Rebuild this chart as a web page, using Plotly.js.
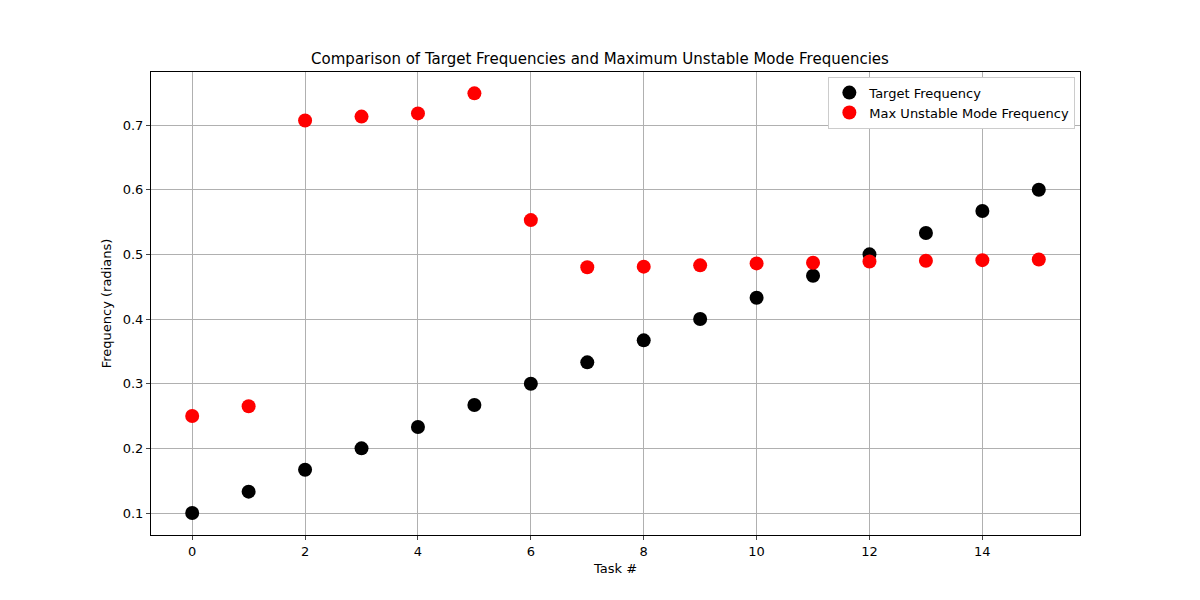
<!DOCTYPE html>
<html><head><script src="https://cdn.plot.ly/plotly-3.0.1.min.js"></script></head>
<body style="margin:0"><div id="c" style="width:1200px;height:600px"></div>
<script>
const tasks = [0,1,2,3,4,5,6,7,8,9,10,11,12,13,14,15];
const targetFreq = [0.1,0.133,0.167,0.2,0.233,0.267,0.3,0.333,0.367,0.4,0.433,0.467,0.5,0.533,0.567,0.6];
const maxUnstable = [0.25,0.265,0.707,0.713,0.718,0.749,0.553,0.480,0.481,0.483,0.486,0.487,0.489,0.490,0.491,0.492];
const xTicks = [0,2,4,6,8,10,12,14];
const yTicks = [0.1,0.2,0.3,0.4,0.5,0.6,0.7];
Plotly.newPlot('c', [
 {x:tasks,y:targetFreq,mode:'markers',type:'scatter',name:'Target Frequency',marker:{color:'black',size:14}},
 {x:tasks,y:maxUnstable,mode:'markers',type:'scatter',name:'Max Unstable Mode Frequency',marker:{color:'red',size:14}}
],{
 width:1200,height:600,paper_bgcolor:'white',plot_bgcolor:'white',
 font:{family:'DejaVu Sans',size:13,color:'black'},
 margin:{l:151,r:120,t:72,b:65},
 title:{text:'Comparison of Target Frequencies and Maximum Unstable Mode Frequencies',x:0.5,xanchor:'center',y:0.902,yanchor:'middle',font:{size:15}},
 xaxis:{range:[-0.73,15.73],tickvals:xTicks,tickfont:{size:13},showgrid:true,gridcolor:'#b0b0b0',zeroline:false,showline:true,mirror:true,linecolor:'black',ticks:'outside',ticklen:4,title:{text:'Task #',standoff:6,font:{size:13}}},
 yaxis:{range:[0.066,0.782],tickvals:yTicks,tickfont:{size:13},ticktext:yTicks.map(v=>v.toFixed(1)),showgrid:true,gridcolor:'#b0b0b0',zeroline:false,showline:true,mirror:true,linecolor:'black',ticks:'outside',ticklen:4,title:{text:'Frequency (radians)',standoff:8,font:{size:13}}},
 legend:{x:0.995,y:0.99,xanchor:'right',yanchor:'top',bordercolor:'#cccccc',borderwidth:1,bgcolor:'white',font:{size:13},tracegroupgap:0},
 showlegend:true
},{displayModeBar:false});
</script></body></html>
